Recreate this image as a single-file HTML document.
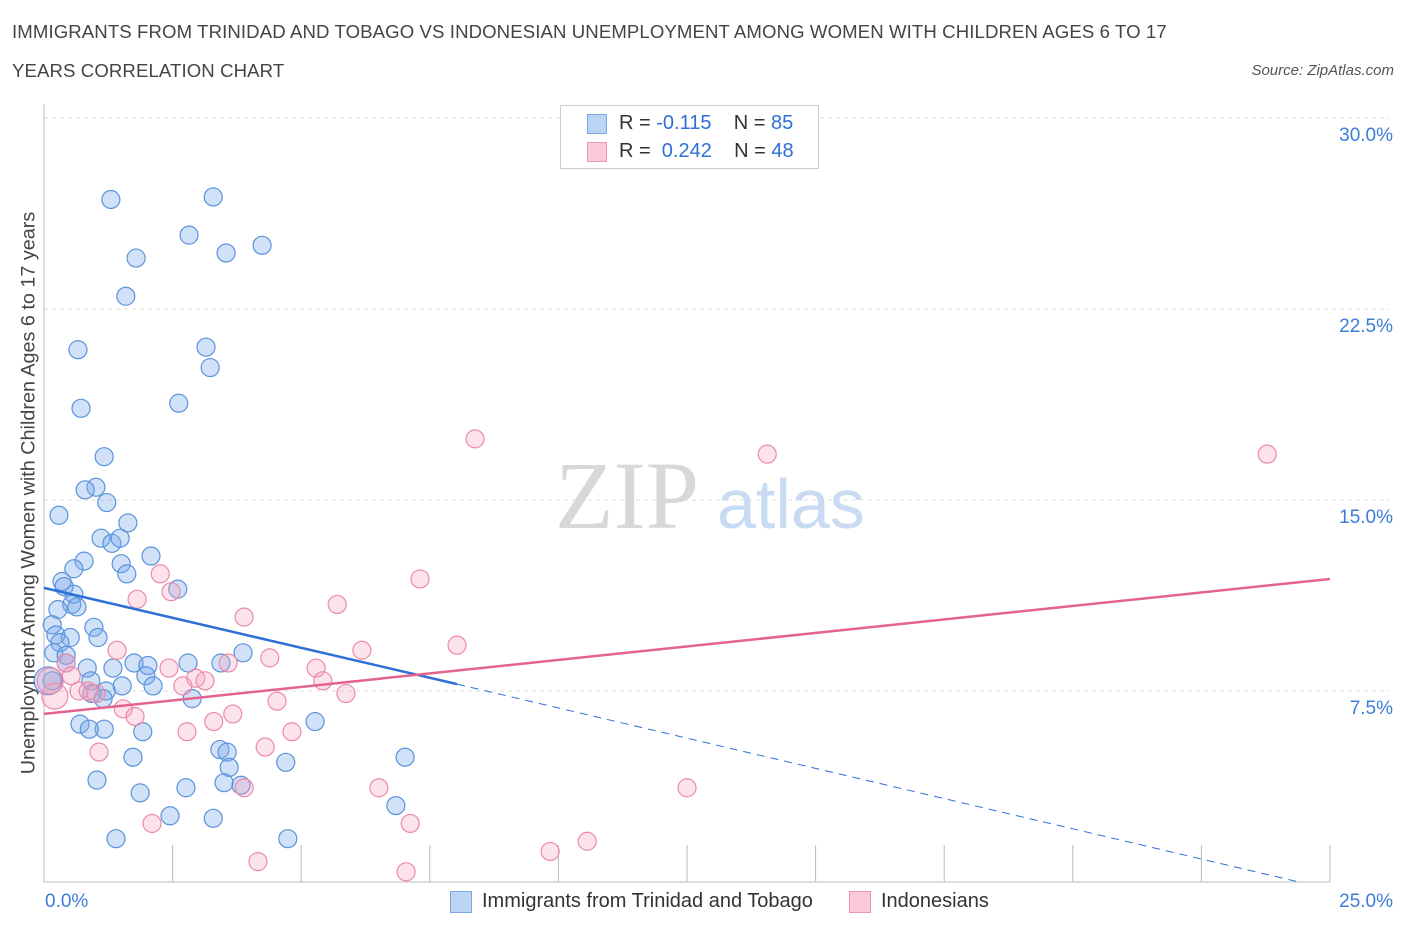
<!DOCTYPE html>
<html><head><meta charset="utf-8">
<style>
body{margin:0;background:#fff;font-family:"Liberation Sans",sans-serif;}
#wrap{position:relative;width:1406px;height:930px;overflow:hidden;}
.title{position:absolute;left:12px;font-size:18.6px;color:#444;letter-spacing:0.1px}
</style></head><body>
<div id="wrap">
<div class="title" style="top:21px">IMMIGRANTS FROM TRINIDAD AND TOBAGO VS INDONESIAN UNEMPLOYMENT AMONG WOMEN WITH CHILDREN AGES 6 TO 17</div>
<div class="title" style="top:60px">YEARS CORRELATION CHART</div>
<div style="position:absolute;right:12px;top:62px;font-size:15px;color:#555;font-style:italic">Source: ZipAtlas.com</div>
<svg id="svg" width="1406" height="930" style="position:absolute;left:0;top:0"></svg>
</div>
<script>
const blueX=[1.30,3.29,2.82,3.54,4.24,1.79,1.59,0.66,3.15,3.23,0.72,2.62,1.17,1.01,0.80,1.22,0.29,1.63,1.11,1.32,1.48,2.08,0.78,1.50,1.61,0.58,0.35,0.39,0.58,2.60,0.54,0.64,0.27,0.97,0.16,0.23,0.51,1.05,0.31,0.19,0.43,3.87,2.80,3.44,1.75,2.02,0.43,0.84,1.34,1.98,0.91,0.16,1.52,2.12,1.21,0.93,1.15,2.88,5.27,0.70,1.17,0.88,1.92,3.42,3.56,1.73,7.02,4.70,3.60,1.03,3.50,3.83,2.76,1.87,6.84,2.45,3.29,1.40,4.74,0.08];
const blueY=[26.8,26.9,25.4,24.7,25.0,24.5,23.0,20.9,21.0,20.2,18.6,18.8,16.7,15.5,15.4,14.9,14.4,14.1,13.5,13.3,13.5,12.8,12.6,12.5,12.1,12.3,11.8,11.6,11.3,11.5,10.9,10.8,10.7,10.0,10.1,9.7,9.6,9.6,9.4,9.0,8.9,9.0,8.6,8.6,8.6,8.5,8.6,8.4,8.4,8.1,7.9,7.9,7.7,7.7,7.5,7.4,7.2,7.2,6.3,6.2,6.0,6.0,5.9,5.2,5.1,4.9,4.9,4.7,4.5,4.0,3.9,3.8,3.7,3.5,3.0,2.6,2.5,1.7,1.7,7.9];
const pinkX=[8.38,14.06,23.78,2.26,7.31,1.81,2.47,5.70,3.89,1.42,6.18,8.03,4.39,0.43,0.53,2.43,3.58,5.29,2.95,3.13,5.42,2.70,0.68,0.86,1.01,5.87,4.53,0.21,1.54,1.77,3.67,3.30,2.78,4.82,1.07,4.30,3.89,6.51,12.50,2.10,7.12,9.84,10.56,4.16,7.04,0.12];
const pinkY=[17.4,16.8,16.8,12.1,11.9,11.1,11.4,10.9,10.4,9.1,9.1,9.3,8.8,8.6,8.1,8.4,8.6,8.4,8.0,7.9,7.9,7.7,7.5,7.5,7.4,7.4,7.1,7.3,6.8,6.5,6.6,6.3,5.9,5.9,5.1,5.3,3.7,3.7,3.7,2.3,2.3,1.2,1.6,0.8,0.4,7.9];
const yTicks=[7.5,15,22.5,30];
const yTickLabels=["7.5%","15.0%","22.5%","30.0%"];
const blueTrend=[[0,11.55],[8.03,7.77]];
const blueDash=[[8.03,7.77],[24.4,0]];
const pinkTrend=[[0,6.6],[25,11.9]];
const X=v=>44+v/25*1286, Y=v=>882-v/30*764;
const svg=document.getElementById('svg');
const NS='http://www.w3.org/2000/svg';
function mk(t,a){const e=document.createElementNS(NS,t);for(const k in a)e.setAttribute(k,a[k]);svg.appendChild(e);return e;}
yTicks.forEach((t,i)=>{
 const g=mk('line',{x1:44,x2:1390,y1:Y(t),y2:Y(t),stroke:'#ddd','stroke-dasharray':'4,4'});
 
 
 const l=mk('text',{x:1393,y:Y(t)+23,'text-anchor':'end','font-size':19,fill:'#3b7dd8','font-family':'Liberation Sans'});
 l.textContent=yTickLabels[i];
 
 
});
const ax=mk('line',{x1:44,x2:44,y1:104,y2:882,stroke:'#bbb'});


const bx=mk('line',{x1:44,x2:1330,y1:882,y2:882,stroke:'#bbb'});


for(let i=0;i<=10;i++){const px=44+i*128.6;const t=mk('line',{x1:px,x2:px,y1:845,y2:882,stroke:'#bbb'});
 
 }
const w1=mk('text',{x:555,y:528,'font-size':96,fill:'#d8d8d8','font-family':'Liberation Serif'});w1.textContent='ZIP';


const w2=mk('text',{x:717,y:528,'font-size':70,fill:'#c9dbf2','font-family':'Liberation Sans'});w2.textContent='atlas';


blueX.forEach((x,i)=>{const c=mk('circle',{cx:X(x),cy:Y(blueY[i]),r:i==blueX.length-1?14:9,fill:'rgba(120,170,235,0.35)',stroke:'#5b93dc','stroke-width':1.2});
 
 });
pinkX.forEach((x,i)=>{const c=mk('circle',{cx:X(x),cy:Y(pinkY[i]),r:(i==27||i==pinkX.length-1)?13:9,fill:'rgba(245,160,185,0.3)',stroke:'#ec8aa8','stroke-width':1.2});
 
 });
const t1=mk('line',{x1:X(blueTrend[0][0]),y1:Y(blueTrend[0][1]),x2:X(blueTrend[1][0]),y2:Y(blueTrend[1][1]),stroke:'#2f6fd6','stroke-width':2.5});


const t2=mk('line',{x1:X(blueDash[0][0]),y1:Y(blueDash[0][1]),x2:X(blueDash[1][0]),y2:Y(blueDash[1][1]),stroke:'#2f6fd6','stroke-width':1,'stroke-dasharray':'8,6'});


const t3=mk('line',{x1:X(pinkTrend[0][0]),y1:Y(pinkTrend[0][1]),x2:X(pinkTrend[1][0]),y2:Y(pinkTrend[1][1]),stroke:'#e4628c','stroke-width':2.5});


</script>
<div style="position:absolute;left:560px;top:105px;width:257px;height:62px;border:1px solid #ccc;background:#fff;font-size:20px">
 <div style="position:absolute;left:26px;top:8px;width:18px;height:18px;background:#bcd5f5;border:1px solid #7aa7e4"></div>
 <div style="position:absolute;left:58px;top:6px;color:#333">R = <span style="color:#2f6fd6">-0.115</span>&nbsp;&nbsp;&nbsp; N = <span style="color:#2f6fd6">85</span></div>
 <div style="position:absolute;left:26px;top:36px;width:18px;height:18px;background:#f9c9d8;border:1px solid #ec98b2"></div>
 <div style="position:absolute;left:58px;top:34px;color:#333">R = &nbsp;<span style="color:#2f6fd6">0.242</span>&nbsp;&nbsp;&nbsp; N = <span style="color:#2f6fd6">48</span></div>
</div>
<div style="position:absolute;left:19px;top:493px;transform:translate(-50%,-50%) rotate(-90deg);transform-origin:center;white-space:nowrap;font-size:19.8px;color:#444;margin-left:10px">Unemployment Among Women with Children Ages 6 to 17 years</div>
<div style="position:absolute;left:45px;top:891px;font-size:19px;color:#3b7dd8">0.0%</div>
<div style="position:absolute;right:13px;top:891px;font-size:19px;color:#3b7dd8">25.0%</div>
<div style="position:absolute;left:450px;top:891px;width:20px;height:20px;background:#bcd5f5;border:1px solid #7aa7e4"></div>
<div style="position:absolute;left:482px;top:890px;font-size:20px;color:#333">Immigrants from Trinidad and Tobago</div>
<div style="position:absolute;left:849px;top:891px;width:20px;height:20px;background:#f9c9d8;border:1px solid #ec98b2"></div>
<div style="position:absolute;left:881px;top:890px;font-size:20px;color:#333">Indonesians</div>
</body></html>
